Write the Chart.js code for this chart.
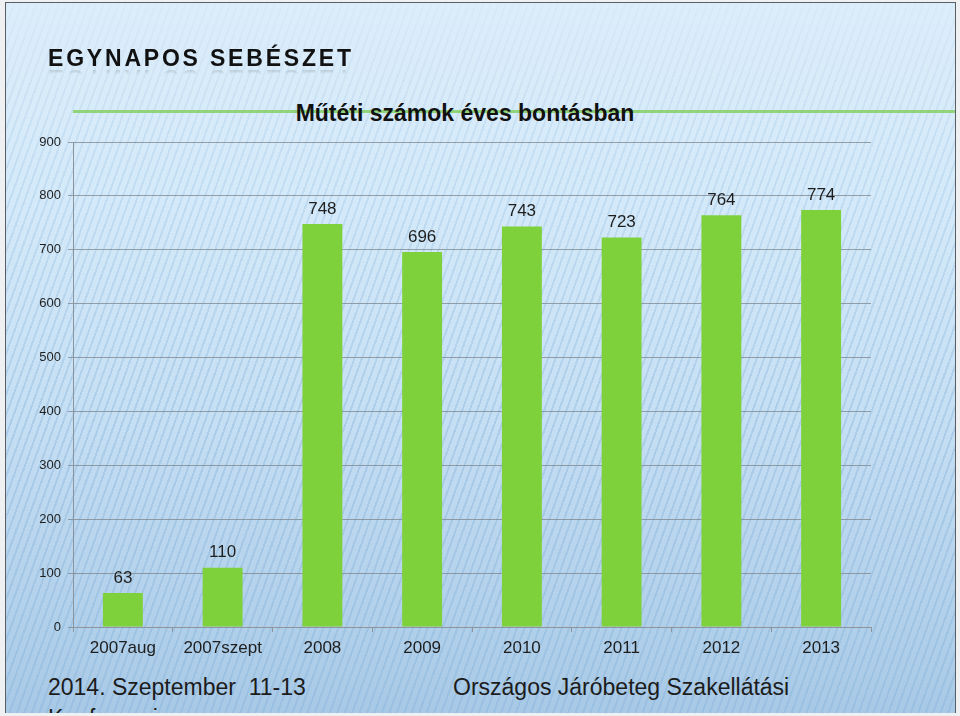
<!DOCTYPE html>
<html>
<head>
<meta charset="utf-8">
<script src="https://cdn.jsdelivr.net/npm/chart.js@4.4.1/dist/chart.umd.min.js"></script>
<style>
  html, body { margin: 0; padding: 0; background: #eef0f2; }
  body { width: 960px; height: 716px; position: relative; overflow: hidden; font-family: "Liberation Sans", Arial, sans-serif; }
  #slide {
    position: absolute; left: 5px; top: 2px; width: 949px; height: 710px;
    border: 1px solid #5a5f66; border-bottom: none; overflow: hidden;
    background: linear-gradient(180deg, #dcedfa 0%, #d3e9f9 30%, #c4def3 60%, #a8c9e6 100%);
  }
  #stripes {
    position: absolute; inset: 0;
    background: repeating-linear-gradient(110deg, rgba(130,175,215,0.35) 0 2px, rgba(130,175,215,0) 2px 7px);
    -webkit-mask-image: linear-gradient(180deg, rgba(0,0,0,0.1) 0%, rgba(0,0,0,0.55) 20%, #000 60%);
  }
  #greenline { position: absolute; left: 67px; top: 107px; width: 890px; height: 3px; background: rgba(122,204,80,0.75); }
  #head {
    position: absolute; left: 42px; top: 42px; font-size: 23px; font-weight: bold;
    letter-spacing: 2.8px; color: #111;
    -webkit-box-reflect: below -8px linear-gradient(transparent 60%, rgba(0,0,0,0.3));
  }
  #title { position: absolute; left: 0; width: 918px; text-align: center; top: 97px; font-size: 23px; font-weight: bold; color: #111; }
  .foot { position: absolute; font-size: 23px; color: #1c1c1c; white-space: pre; }
  canvas { position: absolute; left: 0; top: 0; }
</style>
</head>
<body>
<div id="slide">
  <div id="stripes"></div>
  <div id="greenline"></div>
  <div id="head">EGYNAPOS SEBÉSZET</div>
  <div id="title">Műtéti számok éves bontásban</div>
  <div class="foot" style="left:42px; top:671px;">2014. Szeptember  11-13</div>
  <div class="foot" style="left:447px; top:671px;">Országos Járóbeteg Szakellátási</div>
  <div class="foot" style="left:42px; top:702px;">Konferencia</div>
</div>
<canvas id="chart" width="960" height="716"></canvas>
<script>
const categories = ['2007aug', '2007szept', '2008', '2009', '2010', '2011', '2012', '2013'];
const operations = [63, 110, 748, 696, 743, 723, 764, 774];
const yTicks = [0, 100, 200, 300, 400, 500, 600, 700, 800, 900];

const FONT = '"Liberation Sans", Arial, sans-serif';

// value labels above each bar
const barLabels = {
    id: 'barLabels',
    afterDatasetsDraw(chart) {
        const ctx = chart.ctx;
        const meta = chart.getDatasetMeta(0);
        ctx.save();
        ctx.font = '17px ' + FONT;
        ctx.fillStyle = '#1e1e1e';
        ctx.textAlign = 'center';
        ctx.textBaseline = 'middle';
        meta.data.forEach((bar, i) => {
            ctx.fillText(String(operations[i]), bar.x, bar.y - 15);
        });
        ctx.restore();
    }
};

const ctx = document.getElementById('chart').getContext('2d');
const chart = new Chart(ctx, {
    type: 'bar',
    data: {
        labels: categories,
        datasets: [{
            label: 'Műtétek',
            data: operations,
            backgroundColor: '#7fd13b',
            borderWidth: 0,
            barPercentage: 0.4,
            categoryPercentage: 1.0
        }]
    },
    options: {
        responsive: false,
        animation: false,
        devicePixelRatio: 1,
        layout: { padding: { top: 142, right: 89, bottom: 49, left: 0 } },
        plugins: { legend: { display: false }, tooltip: { enabled: false }, title: { display: false } },
        scales: {
            x: {
                afterFit: (s) => { s.height = 40; },
                grid: { drawOnChartArea: false, drawTicks: true, tickLength: 5, offset: true, color: '#8d949b' },
                border: { color: '#8d949b' },
                ticks: { color: '#1e1e1e', font: { family: FONT, size: 17 }, padding: 6, maxRotation: 0 }
            },
            y: {
                min: 0,
                max: 900,
                afterFit: (s) => { s.width = 73; },
                afterBuildTicks: (s) => { s.ticks = yTicks.map(v => ({ value: v })); },
                grid: { color: 'rgba(120,128,136,0.7)', tickLength: 5 },
                border: { color: '#8d949b' },
                ticks: { color: '#1e1e1e', font: { family: FONT, size: 13 }, padding: 7 }
            }
        }
    },
    plugins: [barLabels]
});
</script>
</body>
</html>
